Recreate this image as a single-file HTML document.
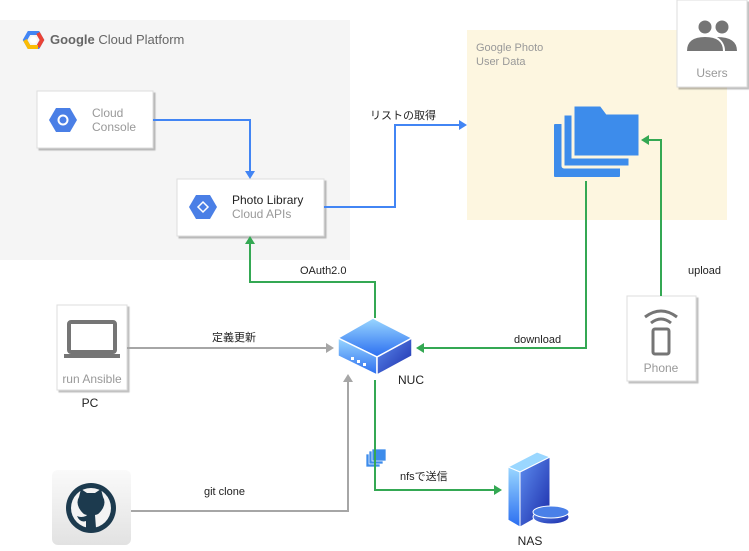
<!DOCTYPE html>
<html><head><meta charset="utf-8"><style>body{margin:0;background:#fff}svg{display:block}text{font-family:"Liberation Sans","Noto Sans CJK JP",sans-serif}</style></head><body>
<svg width="749" height="551" viewBox="0 0 749 551" xmlns="http://www.w3.org/2000/svg">
<defs>
<linearGradient id="bl" x1="0" y1="0" x2="0" y2="1"><stop offset="0" stop-color="#9ad7ff"/><stop offset="1" stop-color="#2a6df0"/></linearGradient>
<linearGradient id="bd" x1="0" y1="0" x2="1" y2="1"><stop offset="0" stop-color="#5e8ef0"/><stop offset="1" stop-color="#1a2aa8"/></linearGradient>
<linearGradient id="gh" x1="0" y1="0" x2="0" y2="1"><stop offset="0" stop-color="#fafafa"/><stop offset="1" stop-color="#e2e2e2"/></linearGradient>
<filter id="sh"><feDropShadow dx="2" dy="2" stdDeviation="0.6" flood-color="#000" flood-opacity="0.25"/></filter>
</defs>
<rect x="0" y="20" width="350" height="240" fill="#f5f5f5"/>
<polygon points="25,40 29,33 38,33 42,40 38,47 29,47" fill="none" stroke="#4285f4" stroke-width="4"/>
<path d="M38,33 L42,40 L38,47" fill="none" stroke="#ea4335" stroke-width="4"/>
<path d="M25,40 L29,47 L38,47" fill="none" stroke="#fbbc05" stroke-width="4"/>
<circle cx="33.5" cy="40" r="3.5" fill="#fff"/>
<text x="50" y="44" font-size="13" fill="#666"><tspan font-weight="bold">Google</tspan> Cloud Platform</text>
<rect x="467" y="30" width="260" height="190" fill="#fdf6e0"/>
<text x="476" y="51" font-size="11" fill="#999">Google Photo</text>
<text x="476" y="65" font-size="11" fill="#999">User Data</text>
<rect x="37" y="91" width="116" height="57" fill="#fff" stroke="#ddd" filter="url(#sh)"/>
<polygon points="49,120 56,108 70,108 77,120 70,132 56,132" fill="#4a7fe6"/>
<circle cx="63" cy="120" r="4.5" fill="none" stroke="#fff" stroke-width="2"/>
<text x="92" y="117" font-size="12" fill="#999">Cloud</text>
<text x="92" y="131" font-size="12" fill="#999">Console</text>
<rect x="177" y="179" width="147" height="57" fill="#fff" stroke="#ddd" filter="url(#sh)"/>
<polygon points="189,207 196,195 210,195 217,207 210,219 196,219" fill="#4a7fe6"/>
<polygon points="203,202 208,207 203,212 198,207" fill="none" stroke="#fff" stroke-width="1.5"/>
<text x="232" y="204" font-size="12" fill="#222">Photo Library</text>
<text x="232" y="218" font-size="12" fill="#999">Cloud APIs</text>
<rect x="677" y="0" width="70" height="87" fill="#fff" stroke="#ddd" filter="url(#sh)"/>
<circle cx="705" cy="27" r="6.5" fill="#757575"/><circle cx="722" cy="27" r="6.5" fill="#757575"/>
<path d="M687,51 Q687,37 705,37 Q723,37 723,51 Z" fill="#757575"/><path d="M717,37 Q737,37 737,51 L725,51 Q725,42 717,37Z" fill="#757575"/>
<text x="712" y="77" font-size="12" fill="#999" text-anchor="middle">Users</text>
<rect x="627" y="296" width="69" height="85" fill="#fff" stroke="#ddd" filter="url(#sh)"/>
<path d="M645,317 Q661,305 677,317" fill="none" stroke="#757575" stroke-width="3"/>
<path d="M651,323 Q661,315 671,323" fill="none" stroke="#757575" stroke-width="3"/>
<rect x="653" y="329" width="16" height="25" rx="2" fill="none" stroke="#757575" stroke-width="3"/>
<text x="661" y="372" font-size="12" fill="#999" text-anchor="middle">Phone</text>
<rect x="57" y="305" width="70" height="85" fill="#fff" stroke="#ddd" filter="url(#sh)"/>
<rect x="69" y="322" width="46" height="30" rx="2" fill="none" stroke="#757575" stroke-width="4"/>
<rect x="64" y="354" width="56" height="4" fill="#757575"/>
<text x="92" y="383" font-size="12" fill="#999" text-anchor="middle">run Ansible</text>
<text x="90" y="407" font-size="12" fill="#222" text-anchor="middle">PC</text>
<rect x="52" y="470" width="79" height="75" rx="6" fill="url(#gh)"/>
<circle cx="91" cy="508" r="25" fill="#1c3a4e"/><circle cx="91" cy="508" r="20" fill="#f3f3f3"/>
<path d="M79,497 L81,489 L87,493 L95,493 L101,489 L103,497 Q106,502 103,508 Q99,515 95,515 L96,528 L86,528 L86,521 Q80,523 77,516 Q81,518 86,516 L87,515 Q83,515 79,508 Q76,502 79,497Z" fill="#1c3a4e"/>
<!-- folders -->
<rect x="554" y="124" width="66" height="53" rx="1" fill="#3d8ceb"/>
<rect x="563" y="114" width="67" height="53" rx="1" fill="#3d8ceb" stroke="#fdf6e0" stroke-width="3"/>
<path d="M573,105 L601,105 L607,113 L640,113 L640,157 L573,157 Z" fill="#3d8ceb" stroke="#fdf6e0" stroke-width="3"/>
<!-- NUC -->
<polygon points="338,338 373,318 412,338 377,357" fill="url(#bl)" stroke="#fff" stroke-width="1.5"/>
<polygon points="338,338 377,357 377,375 338,356" fill="url(#bl)" stroke="#fff" stroke-width="1.5"/>
<polygon points="377,357 412,338 412,356 377,375" fill="url(#bd)" stroke="#fff" stroke-width="1.5"/>
<rect x="351" y="357" width="3" height="3" fill="#fff"/><rect x="357" y="360" width="3" height="3" fill="#fff"/><rect x="363" y="363" width="3" height="3" fill="#fff"/>
<text x="398" y="384" font-size="12" fill="#222">NUC</text>
<!-- NAS -->
<polygon points="508,467 537,452 550,457 520,472" fill="#9ad7ff" stroke="#fff"/>
<polygon points="508,467 520,472 520,527 508,520" fill="url(#bl)" stroke="#fff"/>
<polygon points="520,472 550,457 550,510 520,527" fill="url(#bd)" stroke="#fff"/>
<ellipse cx="551" cy="517" rx="18" ry="7" fill="url(#bd)" stroke="#fff"/>
<ellipse cx="551" cy="512" rx="18" ry="6" fill="#4a80e8" stroke="#fff"/>
<text x="530" y="545" font-size="12" fill="#222" text-anchor="middle">NAS</text>
<rect x="366" y="454" width="14" height="13" fill="#3d8ceb" stroke="#fff" stroke-width="0.7"/>
<rect x="369" y="451" width="14" height="13" fill="#3d8ceb" stroke="#fff" stroke-width="0.7"/>
<rect x="372" y="449" width="14" height="12" fill="#3d8ceb" stroke="#fff" stroke-width="0.7"/>
<g fill="none" stroke-width="2">
<path d="M153,120 H250 V172" stroke="#4285f4"/>
<path d="M324,207 H395 V125 H461" stroke="#4285f4"/>
<path d="M586,181 V348 H422" stroke="#34a853"/>
<path d="M661,296 V140 H647" stroke="#34a853"/>
<path d="M375,318 V282 H250 V242" stroke="#34a853"/>
<path d="M375,380 V490 H496" stroke="#34a853"/>
<path d="M127,348 H328" stroke="#a6a6a6"/>
<path d="M131,511 H348 V380" stroke="#a6a6a6"/>
</g>
<polygon points="245,171 255,171 250,179" fill="#4285f4"/>
<polygon points="459,120 459,130 467,125" fill="#4285f4"/>
<polygon points="424,343 424,353 416,348" fill="#34a853"/>
<polygon points="649,135 649,145 641,140" fill="#34a853"/>
<polygon points="245,244 255,244 250,236" fill="#34a853"/>
<polygon points="494,485 494,495 502,490" fill="#34a853"/>
<polygon points="326,343 326,353 334,348" fill="#a6a6a6"/>
<polygon points="343,382 353,382 348,374" fill="#a6a6a6"/>
<g font-size="11" fill="#222">
<text x="370" y="119">リストの取得</text>
<text x="514" y="343">download</text>
<text x="688" y="274">upload</text>
<text x="300" y="274">OAuth2.0</text>
<text x="212" y="341">定義更新</text>
<text x="204" y="495">git clone</text>
<text x="400" y="480">nfsで送信</text>
</g>
</svg>
</body></html>
